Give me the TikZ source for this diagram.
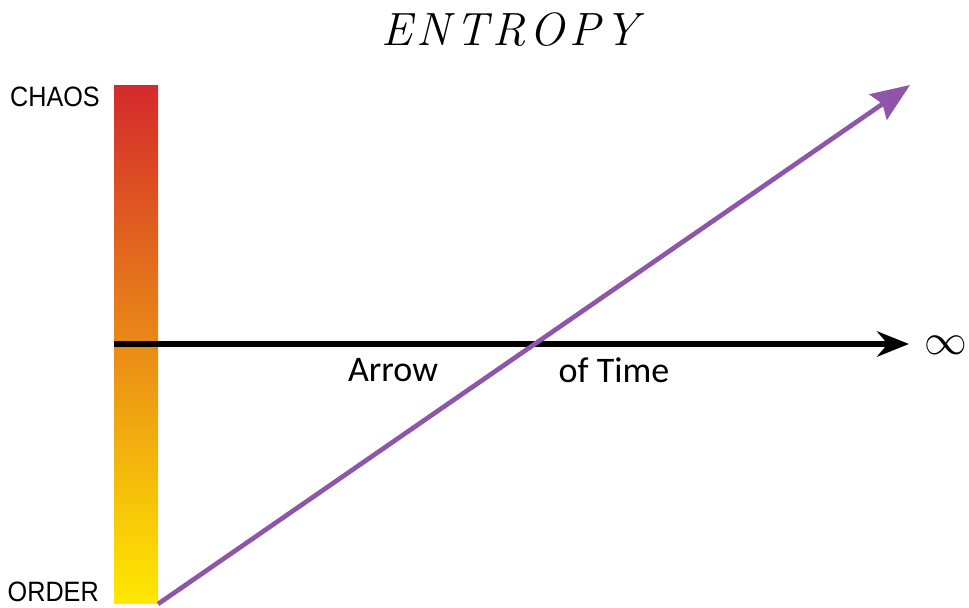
\documentclass[tikz,border=0pt]{standalone}
\usepackage{fontspec}
\newfontfamily\labelfont[FakeStretch=0.9]{Liberation Sans}
\newfontfamily\calib{Carlito}
\newfontfamily\titlefont[LetterSpace=10]{Latin Modern Roman}
\usetikzlibrary{arrows.meta}
\definecolor{chaosred}{HTML}{D42A2C}
\definecolor{midorange}{HTML}{E8892A}
\definecolor{orderyellow}{HTML}{FFE900}
\definecolor{entpurple}{HTML}{8E55A9}
\tikzset{
  sidelabel/.style={font=\labelfont\fontsize{21}{22}\selectfont, text=black, inner sep=0pt},
  timelabel/.style={font=\calib\fontsize{27}{29}\selectfont, text=black, inner sep=0pt},
  entbar/.style={draw=none, minimum width=33pt, minimum height=388.5pt, inner sep=0pt,
    top color=chaosred, middle color=midorange, bottom color=orderyellow},
  timeaxis/.style={line width=3.9pt, -{Stealth[length=24pt, width=19pt, inset=8pt]}},
  entline/.style={line width=3.5pt, draw=entpurple, -{Stealth[length=29pt, width=23pt, inset=4pt]}},
}
\begin{document}
\begin{tikzpicture}[x=0.75pt,y=-0.75pt]
\useasboundingbox (0,0) rectangle (969,607);
\node[font=\titlefont\itshape\fontsize{35}{35}\selectfont, inner sep=0pt] (title) at (510,30) {ENTROPY};
\node[entbar] (bar) at (136,344) {};
\node[sidelabel, anchor=east] (chaos) at (100,97) {CHAOS};
\node[sidelabel, anchor=east] (order) at (99,592) {ORDER};
\coordinate (axisstart) at (114,344);
\coordinate (axisend) at (909,344);
\draw[timeaxis] (axisstart) -- (axisend);
\node[inner sep=0pt, anchor=west, scale=3.2] (inf) at (924,345) {$\infty$};
\node[timelabel] (arrowlbl) at (393,370) {Arrow};
\node[timelabel] (timelbl) at (614,370) {of Time};
\coordinate (entstart) at (158,604);
\coordinate (enttip) at (910,85);
\draw[entline] (entstart) -- (enttip);
\end{tikzpicture}
\end{document}
